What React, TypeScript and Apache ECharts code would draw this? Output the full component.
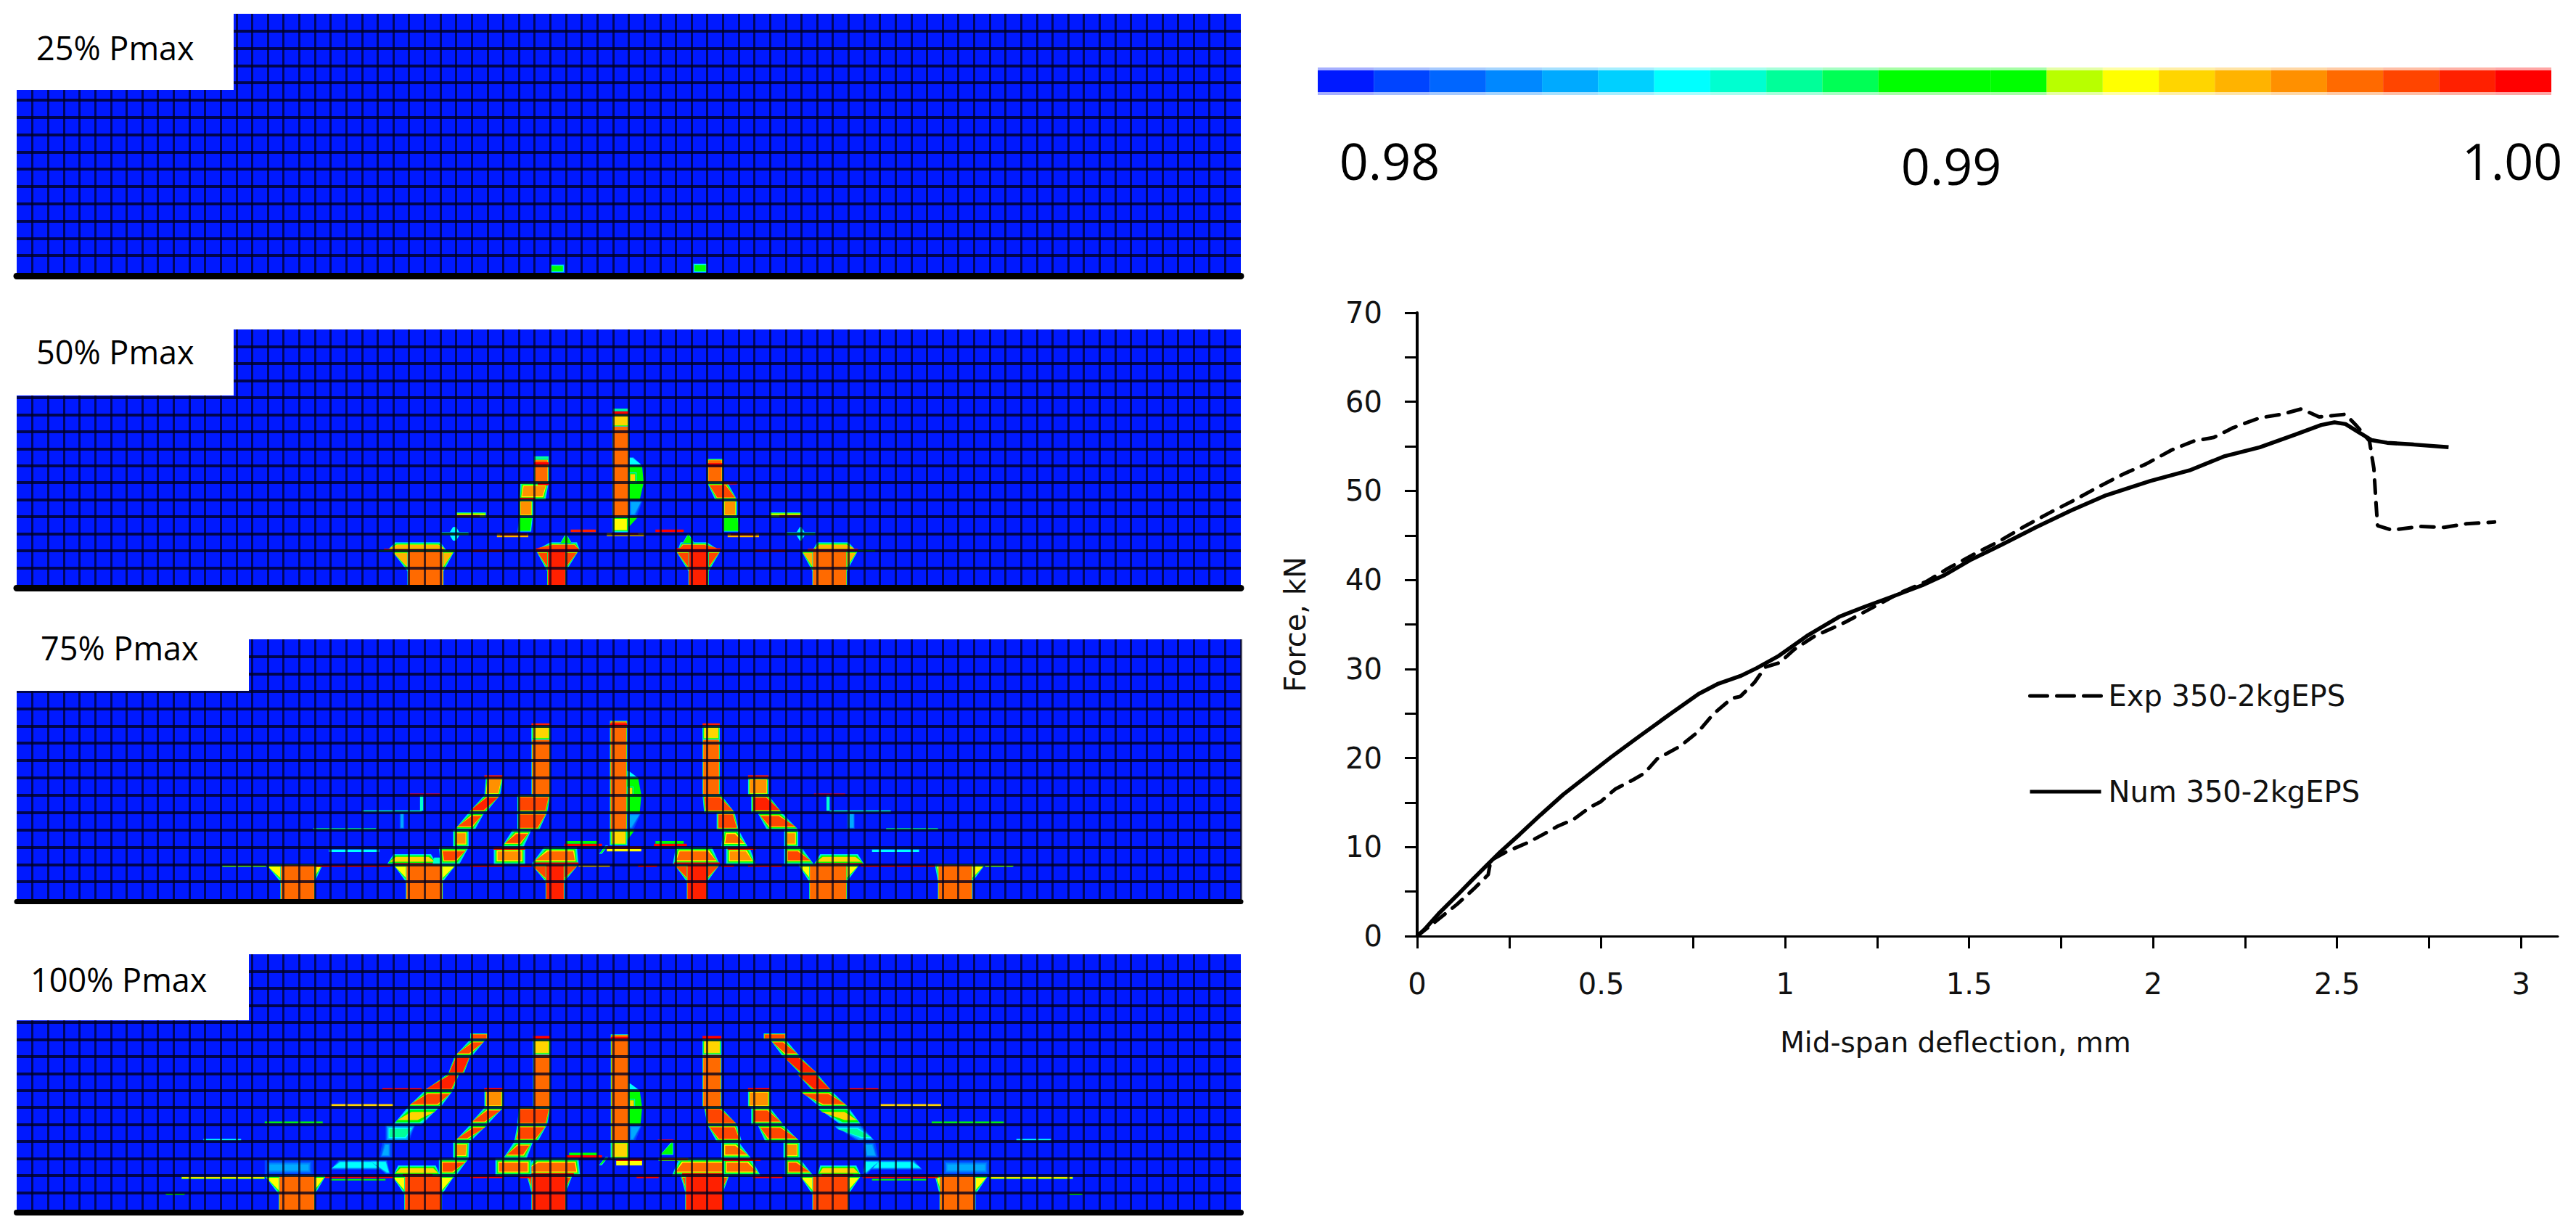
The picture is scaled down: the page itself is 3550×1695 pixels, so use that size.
import React, { useEffect, useRef } from "react";
import * as echarts from "echarts";

// ---------- force / deflection curves [mm, kN] ----------
const expCurve = [[0,0],[0.052,1.7],[0.109,3.6],[0.154,5.3],[0.193,6.9],[0.2,8.5],[0.244,9.5],[0.301,10.5],[0.346,11.5],[0.38,12.3],[0.425,13.1],[0.471,14.5],[0.499,15.1],[0.538,16.5],[0.589,17.6],[0.618,18.3],[0.652,19.9],[0.714,21.3],[0.765,23],[0.804,24.9],[0.855,26.7],[0.878,26.9],[0.917,28.5],[0.946,30.2],[0.985,30.7],[1.025,32.2],[1.081,33.7],[1.161,35.2],[1.229,36.7],[1.31,38.5],[1.383,39.8],[1.443,41.3],[1.514,42.9],[1.58,44.3],[1.646,45.9],[1.717,47.5],[1.783,48.9],[1.854,50.5],[1.92,51.9],[1.98,53],[2.051,54.6],[2.111,55.6],[2.165,56],[2.218,57.1],[2.29,58.2],[2.35,58.6],[2.403,59.2],[2.451,58.3],[2.523,58.6],[2.553,57.3],[2.588,55.6],[2.6,52.5],[2.606,48.5],[2.61,46.1],[2.648,45.6],[2.726,46],[2.791,45.9],[2.851,46.3],[2.928,46.5]];
const numCurve = [[0,0],[0.02,0.75],[0.058,2.5],[0.109,4.6],[0.154,6.5],[0.188,7.9],[0.227,9.5],[0.278,11.4],[0.335,13.6],[0.397,15.9],[0.459,17.9],[0.527,20.1],[0.606,22.5],[0.686,24.9],[0.765,27.2],[0.816,28.3],[0.878,29.2],[0.923,30.1],[0.98,31.4],[1.059,33.7],[1.149,35.9],[1.217,37],[1.296,38.2],[1.373,39.4],[1.431,40.5],[1.502,42.2],[1.586,43.9],[1.681,45.9],[1.777,47.8],[1.872,49.5],[1.992,51.1],[2.099,52.3],[2.195,53.9],[2.29,54.9],[2.385,56.3],[2.457,57.4],[2.493,57.7],[2.523,57.5],[2.558,56.6],[2.594,55.7],[2.636,55.4],[2.708,55.2],[2.803,54.9]];
const expName = "Exp 350-2kgEPS";
const numName = "Num 350-2kgEPS";
const xLabelValues = [0, 0.5, 1, 1.5, 2, 2.5, 3];
const xTickValues = [0, 0.25, 0.5, 0.75, 1, 1.25, 1.5, 1.75, 2, 2.25, 2.5, 2.75, 3];
const yTickValues = [0, 5, 10, 15, 20, 25, 30, 35, 40, 45, 50, 55, 60, 65, 70];

// ---------- damage colour bar ----------
const colorBarColors = ["#0019ff","#0044ff","#0066ff","#0088ff","#00aaff","#00d0ff","#00ffff","#00ffd0","#00ff99","#00ff55","#00ff00","#00ff00","#00ff00","#b8ff00","#ffff00","#ffd500","#ffb300","#ff9000","#ff6a00","#ff4500","#ff2000","#ff0000"];
const colorBarLabels = ["0.98", "0.99", "1.00"];

// ---------- mesh damage patches, in mesh cell units (column, row from the bottom) ----------
// [x0, x1, y0, y1, peak, spread] or [bottomX0, bottomX1, topX0, topX1, y0, y1, peak, spread]
const meshCols = 78;
const meshRows = 15;

const patches25 = [
  [34, 34.9, 0, 0.5, 0.99, 0.1],
  [43.1, 44, 0, 0.55, 0.99, 0.1],
];

const patches50 = [
  // supports
  [24.9,27.2,23.9,27.9,0.8,2,0.995,0.14],[23.6,27.4,24.1,27,2,2.5,0.995,0.16],[24.9,27.2,-0.3,2.02,0.9968,0.05],[23.4,27.2,2,2.12,0.9995,0],[22.9,28,1.96,2.04,0.99,0],
  [33.8,35,33.1,35.8,0.8,2,0.9975,0.12],[33,35.9,34,35.7,2,2.5,0.9975,0.16],[33.8,35,-0.3,2.02,0.9985,0.05],[34.6,35.4,34.95,35.05,2.4,3,0.99,0.05],[33.1,35.8,1.95,2.15,0.9995,0],
  [42.8,44.1,42,44.85,0.8,2,0.9975,0.12],[42.1,44.8,42.3,44,2,2.5,0.9975,0.16],[42.8,44.1,-0.3,2.02,0.9985,0.05],[42.4,43.2,42.75,42.85,2.4,3,0.99,0.05],[42,44.85,1.95,2.15,0.9995,0],
  [50.7,52.9,50,53.6,0.8,2,0.995,0.14],[50.7,53.5,51,53,2,2.5,0.995,0.16],[50.7,52.9,-0.3,2.02,0.9968,0.05],[50.4,53.6,2,2.12,0.9995,0],[53.6,54.7,1.96,2.04,0.99,0],
  // centre column and its lobe
  [37.95,39,3.1,10.2,0.9968,0.06],[37.95,39,9.3,10,0.9945,0.08],[37.95,39,3.1,4,0.993,0.12],[37.95,39,10.05,10.2,0.9995,0],[38,38.95,10.2,10.35,0.988,0],
  [39,39.7,39,39.95,5,6,0.99,0],[39,39.95,39,39.85,6,7,0.99,0],[39,39.5,6,6.6,0.994,0.1],[39,39.85,39,39.3,7,7.5,0.986,0.05],[39,39.5,39,39.9,4,5,0.984,0.15],[39,39,39,39.6,3.4,4,0.99,0],
  // left strut
  [32.96,33.9,6,7.4,0.9965,0.08],[32.96,33.9,7.05,7.2,0.9995,0],[32.96,33.9,7.4,7.55,0.988,0],[32,33.7,32.1,33.9,5,6,0.996,0.2],[32,33,5,5.12,0.9995,0],[33.2,33.9,5.85,6,0.9995,0],[32,32.9,4,5,0.9955,0.12],[31.9,32.8,32,32.9,3.1,4,0.99,0.08],
  // right strut
  [44,45,6,7.4,0.9965,0.08],[44,45,6.95,7.15,0.9995,0],[44.5,45.9,44,45.3,5,6,0.9975,0.14],[45,45.9,5.9,6.05,0.9995,0],[45,45.9,4,5,0.9955,0.12],[45,46.1,45,46,3.1,4,0.99,0.08],
  // thin cracks
  [30.6,32.6,2.8,3,0.995,0],[30.8,32.5,2.9,3.02,0.9995,0],[45.3,47.3,2.8,3,0.995,0],[45.5,47.1,2.9,3.02,0.9995,0],[37.6,40,2.85,3.05,0.994,0],[37.9,39.6,2.95,3.05,0.9995,0],
  [35.3,36.9,3.1,3.25,0.999,0],[40.7,42.5,3.1,3.25,0.9995,0],[29,31,1.93,2.07,0.9995,0],[47,49,1.93,2.07,0.9995,0],
  [27,28.8,2.9,3.1,0.99,0.05],[27.6,28.2,27.8,28,3.1,3.4,0.986,0],[27.8,28,27.6,28.2,2.6,2.9,0.986,0],[49,50.9,2.9,3.1,0.99,0.05],[49.7,50.2,49.9,50,3.1,3.4,0.986,0],[49.9,50,49.7,50.2,2.6,2.9,0.986,0],
  [28,29.9,3.95,4.25,0.992,0.05],[28,29.5,3.98,4.1,0.9995,0],[48,50,3.95,4.25,0.992,0.05],[48.6,50,3.98,4.1,0.9995,0],
];

const patches75 = [
  // supports
  [16.8,19,15.9,19.5,1,2,0.993,0.12],[16.8,19,-0.3,2.02,0.9968,0.05],
  [24.8,27.15,24,28,1,2,0.993,0.12],[23.6,26.8,24,26.4,2,2.6,0.994,0.16],[24.8,27.15,-0.3,2.02,0.9968,0.05],[24,26.8,2,2.08,0.9995,0],[26.5,27,26.6,27,2,2.4,0.987,0],
  [33.7,34.9,32.8,35.8,1,2,0.9975,0.12],[32.8,35.8,33.6,35.7,2,3,0.9965,0.24],[33.7,34.9,-0.3,2.02,0.9985,0.05],[33,35.8,2,2.12,0.9995,0],
  [42.7,44,41.9,44.8,1,2,0.9975,0.12],[41.8,44.8,42,44.3,2,3,0.9965,0.24],[42.7,44,-0.3,2.02,0.9985,0.05],[41.9,44.8,2,2.12,0.9995,0],
  [50.5,52.9,49.8,53.7,1,2,0.993,0.12],[50.8,54,51.2,53.6,2,2.6,0.994,0.16],[50.5,52.9,-0.3,2.02,0.9968,0.05],[50.9,53.9,2,2.08,0.9995,0],
  [58.7,60.9,58.5,61.7,1,2,0.993,0.12],[58.7,60.9,-0.3,2.02,0.9968,0.05],
  // left outer strut
  [27,28.2,26.9,28.8,2,3,0.9975,0.24],[27.8,28.8,3,4,0.9955,0.2],[27.9,29.2,28.8,29.8,4,5,0.9975,0.2],[28.8,29.9,29.8,30.8,5,6,0.9985,0.14],[29.8,30.8,29.9,31,6,7.1,0.9955,0.12],[29.8,31,7,7.15,0.999,0],
  // left inner strut
  [30.4,32.4,2,3,0.996,0.24],[30.4,32.4,2.85,3,0.9995,0],[30.9,32.3,31.6,32.8,3,4,0.9975,0.24],[31.9,33.3,31.9,33.8,4,5,0.9975,0.12],[31.9,33.8,31.9,34,5,6,0.998,0.12],[32.8,34,6,10,0.9968,0.06],[32.8,34,9.2,10,0.9945,0.12],[32.8,34,10,10.15,0.999,0],
  [34.9,37.3,3.05,3.2,0.9995,0],[35,37,3.2,3.35,0.99,0],[37.1,37.3,37.5,37.7,2.6,3.1,0.99,0.05],
  // centre column and lobe
  [37.8,38.9,3.1,10.3,0.9968,0.06],[37.8,38.9,3.1,4,0.9945,0.12],[37.8,38.9,10,10.15,0.9995,0],[38.9,39.7,38.9,39.8,5,6,0.99,0],[38.9,39.8,38.9,39.6,6,7,0.99,0],[38.9,39.3,6,6.5,0.994,0.08],[38.9,39.6,38.9,39,7,7.4,0.986,0],[38.9,39.3,38.9,39.8,4,5,0.984,0.15],[37.6,39.8,2.9,3.05,0.9995,0],[37.6,39.8,2.75,2.9,0.993,0],[38.9,38.9,38.9,39.4,3.4,4,0.99,0],
  // right inner strut
  [40.6,42.7,3.05,3.2,0.9995,0],[40.7,42.5,3.2,3.35,0.99,0],[43.7,44.8,6,10,0.9968,0.06],[43.7,44.8,9.2,10,0.9945,0.12],[43.7,44.8,10,10.15,0.999,0],[43.8,45.75,43.7,44.9,5,6,0.998,0.12],[44.6,46,44.6,45.75,4,5,0.9975,0.12],[44.9,46.6,45,46,3,4,0.9965,0.24],[45.2,47.1,45.2,46.7,2,3,0.996,0.24],[45.3,47.1,2.85,3,0.9995,0],
  // right outer strut
  [46.6,47.9,7,7.15,0.999,0],[46.6,47.9,6,7,0.9955,0.12],[46.8,48.75,46.8,47.9,5,6,0.9985,0.14],[47.8,49.8,47.2,48.75,4,5,0.9975,0.2],[48.9,49.8,3,4,0.9955,0.2],[48.9,50.8,48.9,50,2,3,0.9975,0.24],
  // thin cracks
  [13.1,15.9,1.85,1.97,0.993,0.03],[19.1,23.8,1.85,1.97,0.9995,0],[28.9,31,1.85,1.97,0.9995,0],[32,32.8,1.85,1.97,0.9995,0],[35.8,37.8,1.85,1.97,0.994,0],[39.6,40.8,1.85,1.97,0.9995,0],[44.9,45.7,1.85,1.97,0.9995,0],[46.6,48.75,1.85,1.97,0.9995,0],[53.8,58.5,1.85,1.97,0.9995,0],[61.7,63.5,1.85,1.97,0.993,0.03],
  [24.9,27,5.98,6.1,0.9995,0],[22,25.8,5.02,5.12,0.987,0],[25.7,25.9,5.1,6,0.987,0],[24.4,24.7,24.4,24.7,4.05,5,0.984,0.08],[18.9,22.9,3.98,4.1,0.988,0],[19.9,23.1,2.72,2.86,0.986,0],
  [50.8,52.8,5.98,6.1,0.9995,0],[51.6,51.8,5.1,6,0.987,0],[51.8,55.7,5.02,5.12,0.987,0],[52.9,53.4,52.9,53.4,4.05,5,0.984,0.08],[55.4,58.7,3.98,4.1,0.988,0],[54.5,57.5,2.72,2.86,0.986,0],
];

const patches100 = [
  // fading blue halos above the outer supports
  [15.8,18.9,2,2.95,0.984,0.3],[20,23.7,20.5,23.2,2.35,2.9,0.986,0.12],[23.5,23.8,22.5,23.6,2.1,2.9,0.986,0.1],
  [59,62,2,2.95,0.984,0.3],[53.9,57.7,54.4,57.2,2.35,2.9,0.986,0.12],[53.9,54.2,54,55,2.1,2.9,0.986,0.1],
  // supports
  [16.7,19,15.8,19.7,0.9,2,0.993,0.12],[16.7,19,-0.3,2.02,0.9968,0.05],
  [24.7,27.1,23.9,27.9,0.9,2,0.993,0.12],[24,27,24.3,26.7,2,2.6,0.994,0.16],[24.7,27.1,-0.3,2.02,0.9975,0.05],[24.6,26.5,2,2.1,0.9995,0],
  [32.8,35,32.5,35.4,1,2,0.9975,0.12],[32,35.9,33,35.8,2,3,0.9965,0.24],[32.8,35,-0.3,2.02,0.9985,0.05],[32.1,35.5,2,2.15,0.9995,0],
  [42.6,45,42.3,45.4,1,2,0.9975,0.12],[41.75,45.9,42.2,45.4,2,3,0.9965,0.24],[42.6,45,-0.3,2.02,0.9985,0.05],[42.4,45.4,2,2.15,0.9995,0],
  [50.7,53,49.9,53.8,0.9,2,0.993,0.12],[51,53.8,51.2,53.5,2,2.6,0.994,0.16],[50.7,53,-0.3,2.02,0.9975,0.05],[51.3,53.3,2,2.1,0.9995,0],
  [58.8,61.1,58.5,61.9,0.9,2,0.993,0.12],[58.8,61.1,-0.3,2.02,0.9968,0.05],
  // left outer strut
  [23.1,23.9,23.3,23.9,3,4,0.984,0.2],[23.5,25,23.5,25.4,4,5,0.988,0.26],[24,25.8,24.9,26.9,5,6,0.994,0.26],[24.9,27,26,27.8,6,7,0.9975,0.2],[26,27.8,27.5,28.2,7,8,0.9985,0.1],[27.5,28.5,27.9,28.9,8,9,0.9985,0.08],[27.9,29,28.9,29.9,9,10,0.9975,0.18],[28.9,30,10,10.35,0.9975,0.06],
  // left middle strut
  [26.9,28,26.9,28.8,2,3,0.9975,0.24],[27.8,28.8,27.8,28.85,3,4,0.9955,0.2],[27.9,28.9,28.9,30,4,5,0.9975,0.2],[28.85,30,29.8,31,5,6,0.9975,0.18],[29.8,31,6,7.1,0.9955,0.12],[29.8,31,7,7.15,0.9995,0],
  // left inner strut
  [30.5,32.8,2,3,0.9965,0.24],[31,32.5,31.7,32.9,3,4,0.9975,0.24],[31.7,33.2,31.9,33.8,4,5,0.9975,0.16],[31.9,33.8,32,34,5,6,0.998,0.1],[32.9,34,6,10,0.9968,0.06],[32.9,34,9.1,10,0.9945,0.12],[32.9,34,10.02,10.2,0.9995,0],
  [35,37.3,3.05,3.2,0.9995,0],[35.2,37,3.2,3.35,0.99,0],[37.1,37.3,37.5,37.7,2.6,3.1,0.99,0.05],
  // centre column and lobe
  [37.85,39,3,10.3,0.9968,0.06],[37.85,39,3,4,0.9945,0.12],[37.85,39,10,10.15,0.9995,0],[39,39.75,39,39.85,5,6,0.99,0],[39,39.85,39,39.7,6,7,0.99,0],[39,39.4,6,6.5,0.994,0.08],[39,39.7,39,39.1,7,7.4,0.986,0],[39,39.4,39,39.85,4,5,0.984,0.15],[38.2,39.85,2.85,3,0.9995,0],[38.2,39.85,2.6,2.85,0.993,0],
  [40.85,41.85,4,4.12,0.9995,0],[41,41.85,41.7,41.85,3.2,4,0.99,0.06],[40.9,42.8,2.85,3.05,0.998,0.05],
  // right inner strut
  [43.7,44.9,6,10,0.9968,0.06],[43.7,44.9,9.1,10,0.9945,0.12],[43.7,44.9,10.02,10.2,0.9995,0],[44,45.9,43.8,44.9,5,6,0.998,0.1],[44.6,46.2,44,45.9,4,5,0.9975,0.16],[44.9,46.8,44.9,46,3,4,0.9965,0.24],[45,47.4,45,46.8,2,3,0.9965,0.24],[45,47.4,2.85,3,0.9995,0],
  // right middle strut
  [46.6,48,6,7,0.9955,0.12],[46.6,48,7,7.15,0.9995,0],[46.8,48.85,46.8,48,5,6,0.9975,0.18],[47.7,49.9,47.2,48.85,4,5,0.9975,0.2],[48.85,49.9,3,4,0.9955,0.2],[48.95,50.75,48.95,49.9,2,3,0.9975,0.24],
  // right outer strut
  [47.6,49,10,10.35,0.9975,0.06],[48.8,49.9,48,49,9,10,0.9975,0.18],[49.9,51,48.85,49.9,8,9,0.9985,0.08],[50.7,51.9,49.7,51,7,8,0.9985,0.1],[51.2,53,49.9,51.9,6,7,0.9975,0.2],[52.5,53.8,51,53,5,6,0.994,0.26],[53.6,54.7,52,53.8,4,5,0.988,0.26],[54,54.9,53.9,54.7,3,4,0.984,0.2],
  // thin cracks
  [10.5,15.8,1.8,1.95,0.994,0.03],[19.65,24,1.85,1.97,0.9995,0],[20,23.5,1.72,1.8,0.99,0],[28.9,31,1.85,1.97,0.9995,0],[32,32.8,1.85,1.97,0.9995,0],[39.5,40.9,1.85,1.97,0.9995,0],[46.9,48.8,1.85,1.97,0.9995,0],[53.9,58.7,1.85,1.97,0.9995,0],[54.5,58,1.72,1.8,0.99,0],[62,67.3,1.8,1.95,0.994,0.03],
  [23.3,25.8,7.02,7.14,0.9995,0],[20,24,6.06,6.2,0.994,0],[15.8,19.5,5.08,5.18,0.99,0],[11.9,14.3,4.05,4.15,0.986,0],[9.5,10.7,0.86,0.96,0.99,0],
  [53,54.9,7.02,7.14,0.9995,0],[55,58.9,6.06,6.2,0.994,0],[58.3,62.9,5.08,5.18,0.99,0],[63.7,65.9,4.05,4.15,0.986,0],[67,67.9,0.86,0.96,0.99,0],
];

const panelLabels = ["25% Pmax", "50% Pmax", "75% Pmax", "100% Pmax"];
const panelPatches = [patches25, patches50, patches75, patches100];

// ---------- layout (pixels of the page) ----------
const panelBoxes = [
  { top: 19, height: 357, bar: 9, notchW: 322, notchB: 124, labelX: 50, labelY: 65, edge: false },
  { top: 454, height: 352, bar: 9, notchW: 322, notchB: 545, labelX: 50, labelY: 484, edge: false },
  { top: 881, height: 358, bar: 7, notchW: 343, notchB: 952, labelX: 56, labelY: 892, edge: true },
  { top: 1315, height: 352, bar: 8, notchW: 343, notchB: 1406, labelX: 42, labelY: 1349, edge: false },
];
const meshLeft = 23;
const meshWidth = 1687;

function colorOf(v: number) {
  const i = Math.floor(((v - 0.98) / 0.02) * colorBarColors.length);
  return colorBarColors[Math.max(0, Math.min(colorBarColors.length - 1, i))];
}

const normalise = (p: number[]) => (p.length === 6 ? [p[0], p[1], p[0], p[1], p[2], p[3], p[4], p[5]] : p);

function renderPatch(_: any, api: any) {
  const [a, b, c, d, y0, y1, peak, spread] = [0, 1, 2, 3, 4, 5, 6, 7].map((i) => api.value(i));
  const children: any[] = [];
  const layers = spread > 0 ? 5 : 1;
  const low = peak >= 0.992 ? 0.985 : 0.981;
  for (let k = 0; k < layers; k++) {
    const t = layers === 1 ? 1 : k / (layers - 1);
    const inset = spread * t;
    const yb = y0 + inset;
    const yt = y1 - inset;
    if (yb >= yt) continue;
    const squeeze = (l: number, r: number) => {
      const m = (l + r) / 2;
      return [Math.min(l + inset, m), Math.max(r - inset, m)];
    };
    const [bl, br] = squeeze(a, b);
    const [tl, tr] = squeeze(c, d);
    if (bl === br && tl === tr) continue;
    children.push({
      type: "polygon",
      shape: { points: [api.coord([bl, yb]), api.coord([br, yb]), api.coord([tr, yt]), api.coord([tl, yt])] },
      style: { fill: colorOf(low + (peak - low) * t) },
    });
  }
  return { type: "group", children };
}

function renderColorBand(_: any, api: any) {
  const i = api.value(0);
  const p0 = api.coord([i, 0]);
  const p1 = api.coord([i + 1, 1]);
  const shape = { x: p0[0], y: p1[1], width: p1[0] - p0[0], height: p0[1] - p1[1] };
  const fringe = 4;
  return {
    type: "group",
    children: [
      { type: "rect", shape, style: { fill: colorBarColors[i], opacity: 0.35 } },
      { type: "rect", shape: { ...shape, y: shape.y + fringe, height: shape.height - 2 * fringe }, style: { fill: colorBarColors[i] } },
    ],
  };
}

function buildOption() {
  const grid: any[] = [];
  const xAxis: any[] = [];
  const yAxis: any[] = [];
  const series: any[] = [];
  const graphic: any[] = [];

  panelBoxes.forEach((box, i) => {
    grid.push({ left: meshLeft, width: meshWidth, top: box.top, height: box.height, show: true, backgroundColor: "#0019ff", borderWidth: 0, z: 0 });
    xAxis.push({
      gridIndex: i, type: "value", min: 0, max: meshCols, interval: 1, z: 5,
      axisLine: { show: true, onZero: false, lineStyle: { color: "#000", width: box.bar } },
      offset: box.bar / 2,
      axisTick: { show: false }, axisLabel: { show: false },
      splitLine: { show: true, showMinLine: false, showMaxLine: box.edge, lineStyle: { color: "rgba(0,0,30,0.72)", width: 3 } },
    });
    yAxis.push({
      gridIndex: i, type: "value", min: 0, max: meshRows, interval: 1, z: 5,
      axisLine: { show: false }, axisTick: { show: false }, axisLabel: { show: false },
      splitLine: { show: true, showMinLine: false, showMaxLine: false, lineStyle: { color: "rgba(0,0,30,0.78)", width: 4 } },
    });
    series.push({
      type: "custom", name: panelLabels[i], xAxisIndex: i, yAxisIndex: i, coordinateSystem: "cartesian2d",
      renderItem: renderPatch, data: panelPatches[i].map(normalise), clip: true, silent: true, z: 2,
    });
    graphic.push({ type: "rect", z: 50, silent: true, shape: { x: 0, y: box.top - 3, width: box.notchW, height: box.notchB - box.top + 3 }, style: { fill: "#fff" } });
    graphic.push({
      type: "text", z: 51, silent: true, x: box.labelX, y: box.labelY,
      style: { text: panelLabels[i], fill: "#000", font: '45px "Open Sans"', verticalAlign: "middle" },
    });
  });

  // colour bar
  grid.push({ left: 1816, width: 1700, top: 93, height: 38, show: false });
  xAxis.push({ gridIndex: 4, type: "value", min: 0, max: colorBarColors.length, show: false });
  yAxis.push({ gridIndex: 4, type: "value", min: 0, max: 1, show: false });
  series.push({
    type: "custom", name: "Damage scale", xAxisIndex: 4, yAxisIndex: 4, coordinateSystem: "cartesian2d",
    renderItem: renderColorBand, data: colorBarColors.map((_, i) => [i, 0]), silent: true,
  });
  const cbPos = [[1915, 221], [2689, 228], [3462, 221]];
  colorBarLabels.forEach((t, i) => {
    graphic.push({
      type: "text", z: 51, silent: true, x: cbPos[i][0], y: cbPos[i][1],
      style: { text: t, fill: "#000", font: '70px "Open Sans"', align: "center", verticalAlign: "middle" },
    });
  });

  // force-deflection chart
  const font = "DejaVu Sans";
  grid.push({ left: 1953, width: 1572, top: 431, height: 859, show: false });
  xAxis.push({
    gridIndex: 5, type: "value", min: 0, max: 3.1, interval: 0.5,
    name: "Mid-span deflection, mm", nameLocation: "middle", nameGap: 127,
    nameTextStyle: { fontFamily: font, fontSize: 39, color: "#111", padding: [0, 88, 0, 0] },
    axisLine: { show: true, lineStyle: { color: "#000", width: 3 } },
    axisTick: { show: true, length: 17, customValues: xTickValues, lineStyle: { color: "#000", width: 3 } },
    axisLabel: { customValues: xLabelValues, margin: 46, fontFamily: font, fontSize: 40, color: "#111" },
    splitLine: { show: false },
  });
  yAxis.push({
    gridIndex: 5, type: "value", min: 0, max: 70, interval: 10,
    name: "Force, kN", nameLocation: "middle", nameGap: 148, nameRotate: 90,
    nameTextStyle: { fontFamily: font, fontSize: 40, color: "#111" },
    axisLine: { show: true, lineStyle: { color: "#000", width: 4 } },
    axisTick: { show: true, length: 17, customValues: yTickValues, lineStyle: { color: "#000", width: 3 } },
    axisLabel: { margin: 48, fontFamily: font, fontSize: 40, color: "#111" },
    splitLine: { show: false },
  });
  const lineBase = { type: "line", xAxisIndex: 5, yAxisIndex: 5, showSymbol: false, symbol: "none", silent: true, z: 3, itemStyle: { color: "#000" } };
  series.push({ ...lineBase, name: expName, data: expCurve, lineStyle: { color: "#000", width: 5, type: [18, 13], cap: "round" } });
  series.push({ ...lineBase, name: numName, data: numCurve, lineStyle: { color: "#000", width: 5.5 } });

  const legendBase = {
    orient: "horizontal", left: 2790, itemWidth: 98, itemHeight: 12, itemGap: 0,
    selectedMode: false, itemStyle: { color: "#000", opacity: 0 },
    textStyle: { fontFamily: font, fontSize: 40, color: "#111", padding: [0, 0, 0, 5] },
  };
  const legend = [
    { ...legendBase, top: 934, data: [expName], lineStyle: { color: "#000", width: 5, type: [24, 13] } },
    { ...legendBase, top: 1066, data: [numName], lineStyle: { color: "#000", width: 5 } },
  ];

  return { animation: false, backgroundColor: "#fff", grid, xAxis, yAxis, series, graphic: { elements: graphic }, legend, tooltip: { show: false } };
}

export default function App() {
  const ref = useRef<HTMLDivElement>(null);
  useEffect(() => {
    document.body.style.margin = "0";
    const chart = echarts.init(ref.current!, undefined, { renderer: "svg" });
    chart.setOption(buildOption() as any);
    return () => chart.dispose();
  }, []);
  return <div ref={ref} style={{ width: 3550, height: 1695 }} />;
}
